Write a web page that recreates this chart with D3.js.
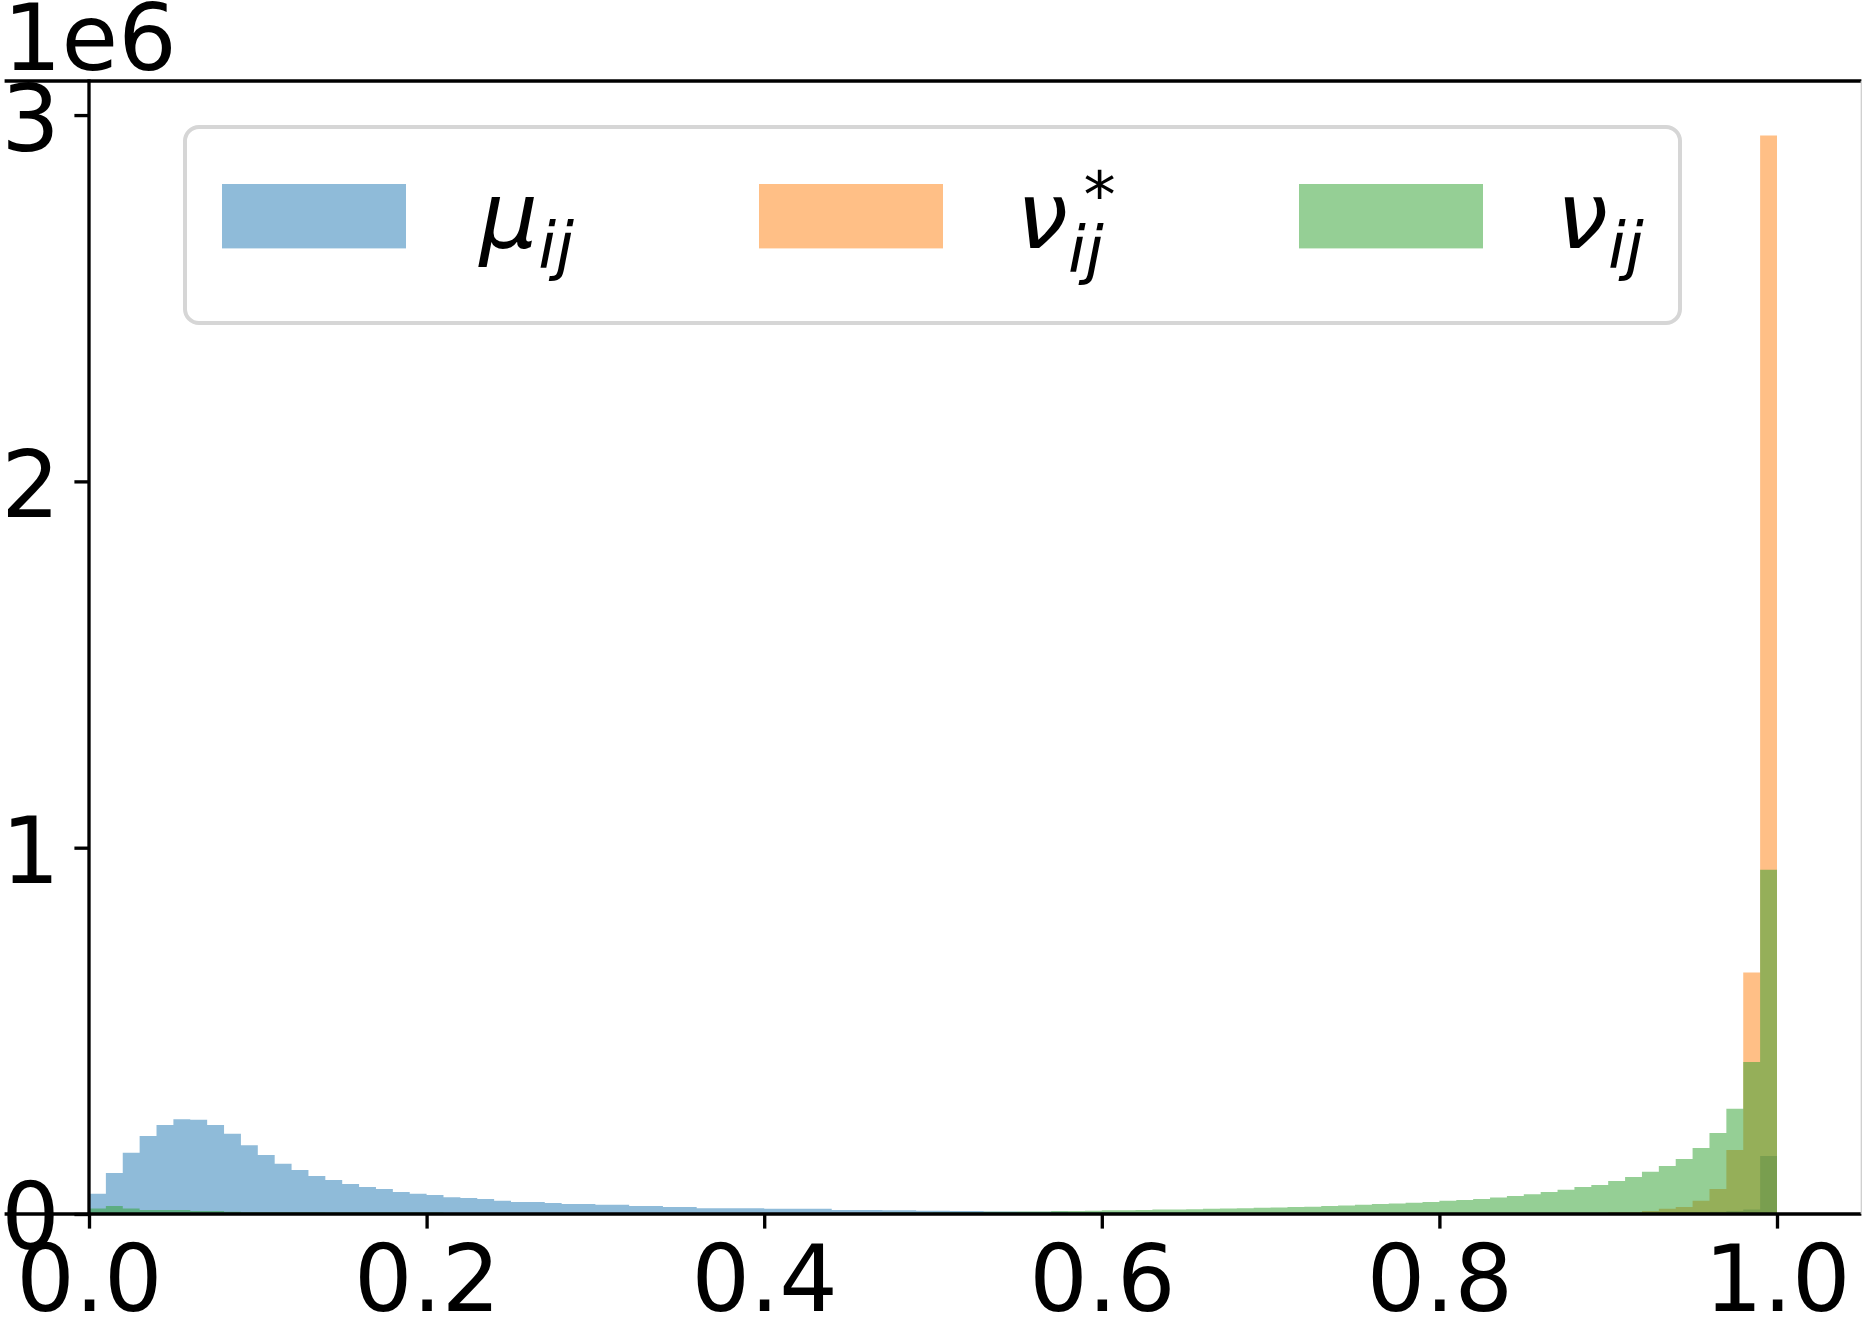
<!DOCTYPE html>
<html>
<head>
<meta charset="utf-8">
<script src="https://cdn.jsdelivr.net/npm/d3@7/dist/d3.min.js"></script>
<style>
  body { margin: 0; background: #fff; }
  svg text { font-family: 'DejaVu Sans', sans-serif; fill: #000; }
</style>
</head>
<body>
<div id="chart"></div>
<script>
// histogram counts per 0.01 bin, in units of 1e6 (bins 0.00-0.01 ... 0.99-1.00)
const BIN_WIDTH = 0.01

const muCounts = [
  0.055, 0.112, 0.167, 0.213, 0.243, 0.259, 0.257, 0.243, 0.219, 0.188,
  0.161, 0.137, 0.120, 0.104, 0.093, 0.082, 0.074, 0.068, 0.060, 0.055,
  0.052, 0.046, 0.044, 0.041, 0.036, 0.033, 0.033, 0.030, 0.027, 0.027,
  0.025, 0.025, 0.022, 0.022, 0.019, 0.019, 0.016, 0.016, 0.016, 0.016,
  0.014, 0.014, 0.014, 0.014, 0.011, 0.011, 0.011, 0.010, 0.010, 0.009,
  0.009, 0.008, 0.008, 0.007, 0.007, 0.006, 0.006, 0.006, 0.005, 0.005,
  0.005, 0.005, 0.004, 0.004, 0.004, 0.004, 0.004, 0.003, 0.003, 0.003,
  0.003, 0.003, 0.003, 0.003, 0.003, 0.003, 0.003, 0.003, 0.003, 0.003,
  0.003, 0.003, 0.003, 0.003, 0.003, 0.003, 0.003, 0.003, 0.003, 0.003,
  0.003, 0.003, 0.004, 0.004, 0.005, 0.005, 0.006, 0.008, 0.012, 0.158
]

const nuStarCounts = [
  0, 0, 0, 0, 0, 0, 0, 0, 0, 0,
  0, 0, 0, 0, 0, 0, 0, 0, 0, 0,
  0, 0, 0, 0, 0, 0, 0, 0, 0, 0,
  0, 0, 0, 0, 0, 0, 0, 0, 0, 0,
  0, 0, 0, 0, 0, 0, 0, 0, 0, 0,
  0, 0, 0, 0, 0, 0, 0, 0, 0, 0,
  0, 0, 0, 0, 0, 0, 0, 0, 0, 0,
  0, 0, 0, 0, 0, 0, 0, 0, 0, 0,
  0, 0, 0, 0, 0, 0, 0.001, 0.001, 0.002, 0.003,
  0.005, 0.005, 0.008, 0.014, 0.019, 0.036, 0.068, 0.175, 0.659, 2.944
]

const nuCounts = [
  0.015, 0.022, 0.015, 0.011, 0.011, 0.011, 0.008, 0.008, 0.006, 0.005,
  0.005, 0.005, 0.005, 0.005, 0.004, 0.004, 0.004, 0.004, 0.004, 0.004,
  0.004, 0.003, 0.003, 0.003, 0.003, 0.003, 0.003, 0.003, 0.003, 0.003,
  0.003, 0.003, 0.003, 0.003, 0.003, 0.003, 0.003, 0.003, 0.003, 0.003,
  0.003, 0.003, 0.003, 0.003, 0.003, 0.003, 0.003, 0.004, 0.004, 0.004,
  0.005, 0.005, 0.005, 0.006, 0.006, 0.007, 0.007, 0.008, 0.008, 0.009,
  0.010, 0.010, 0.011, 0.012, 0.012, 0.013, 0.014, 0.015, 0.016, 0.017,
  0.018, 0.019, 0.020, 0.022, 0.023, 0.025, 0.027, 0.029, 0.031, 0.033,
  0.036, 0.038, 0.041, 0.045, 0.049, 0.054, 0.060, 0.066, 0.074, 0.079,
  0.090, 0.101, 0.115, 0.131, 0.150, 0.180, 0.221, 0.287, 0.415, 0.940
]

const xTicks = [0, 0.2, 0.4, 0.6, 0.8, 1.0]
const yTicks = [0, 1, 2, 3]
const offsetLabel = '1e6'

const series = [
  {name: 'mu', base: 'μ', sup: '', sub: 'ij', color: '#1f77b4', values: muCounts},
  {name: 'nuStar', base: 'ν', sup: '*', sub: 'ij', color: '#ff7f0e', values: nuStarCounts},
  {name: 'nu', base: 'ν', sup: '', sub: 'ij', color: '#2ca02c', values: nuCounts}
]

const W = 1862
const H = 1331
const FONT = 92
const LW = 3.33
const TICK = 14.6
const PAD = 14.6

const x = d3.scaleLinear().domain([-0.05, 1.05]).range([4.6, 1861.4])
const y = d3.scaleLinear().domain([0, 3.093]).range([1214, 81])

const svg = d3.select('#chart').append('svg')
  .attr('width', W).attr('height', H)
  .attr('viewBox', `0 0 ${W} ${H}`)

svg.append('rect').attr('width', W).attr('height', H).attr('fill', '#fff')

// histograms as stepped areas
const area = d3.area()
  .x(d => x(d[0]))
  .y0(y(0))
  .y1(d => y(d[1]))
  .curve(d3.curveStepAfter)

series.forEach(s => {
  const pts = s.values.map((v, i) => [i * BIN_WIDTH, v])
  pts.push([s.values.length * BIN_WIDTH, s.values[s.values.length - 1]])
  svg.append('path')
    .attr('d', area(pts))
    .attr('fill', s.color)
    .attr('fill-opacity', 0.5)
})

// spines
const [xl, xr] = x.range()
const [yb, yt] = y.range()
const spines = svg.append('g').attr('stroke', '#000').attr('stroke-width', LW)
spines.append('line').attr('x1', xl).attr('x2', xr).attr('y1', yt).attr('y2', yt)
spines.append('line').attr('x1', xl).attr('x2', xr).attr('y1', yb).attr('y2', yb)
spines.append('line').attr('x1', x(0)).attr('x2', x(0)).attr('y1', yt - LW / 2).attr('y2', yb + LW / 2)
svg.append('line').attr('x1', xr).attr('x2', xr).attr('y1', yt).attr('y2', yb)
  .attr('stroke', '#d0d0d0').attr('stroke-width', 1.5)

// x axis
const xAxis = svg.append('g')
  .attr('transform', `translate(0, ${y(0)})`)
  .call(d3.axisBottom(x).tickValues(xTicks).tickFormat(d3.format('.1f')).tickSize(TICK).tickPadding(PAD))
xAxis.select('.domain').remove()
xAxis.selectAll('.tick line').attr('stroke', '#000').attr('stroke-width', LW)
xAxis.selectAll('.tick text').attr('font-size', FONT).attr('dy', '0.74em')
  .attr('font-family', "'DejaVu Sans', sans-serif").attr('fill', '#000')

// y axis at x = 0
const yAxis = svg.append('g')
  .attr('transform', `translate(${x(0)}, 0)`)
  .call(d3.axisLeft(y).tickValues(yTicks).tickFormat(d3.format('d')).tickSize(TICK).tickPadding(PAD))
yAxis.select('.domain').remove()
yAxis.selectAll('.tick line').attr('stroke', '#000').attr('stroke-width', LW)
yAxis.selectAll('.tick text').attr('font-size', FONT).attr('dy', '0.38em')
  .attr('font-family', "'DejaVu Sans', sans-serif").attr('fill', '#000')

svg.append('text')
  .attr('x', 3).attr('y', 70)
  .attr('font-size', FONT)
  .text(offsetLabel)

// legend
const legend = svg.append('g')
legend.append('rect')
  .attr('x', 185).attr('y', 127).attr('width', 1495).attr('height', 196)
  .attr('rx', 14).attr('ry', 14)
  .attr('fill', '#fff').attr('fill-opacity', 0.8)
  .attr('stroke', '#d6d6d6').attr('stroke-width', 4)

const colX = [222, 759, 1299]
const HANDLE_W = 2.0 * FONT
const HANDLE_H = 0.7 * FONT
const TEXT_PAD = 0.8 * FONT

series.forEach((s, i) => {
  const g = legend.append('g').attr('transform', `translate(${colX[i]}, 0)`)
  g.append('rect')
    .attr('x', 0).attr('y', 184)
    .attr('width', HANDLE_W).attr('height', HANDLE_H)
    .attr('fill', s.color).attr('fill-opacity', 0.5)

  const tx = HANDLE_W + TEXT_PAD
  const t = g.append('text')
    .attr('x', tx).attr('y', 248)
    .attr('font-size', FONT)
    .attr('font-style', 'italic')
  t.append('tspan').text(s.base)
  t.append('tspan').attr('font-size', FONT * 0.7).attr('dy', s.sup ? 24 : 20).text(s.sub)

  if (s.sup) {
    g.append('text')
      .attr('x', tx + 67).attr('y', 217)
      .attr('font-size', FONT * 0.7)
      .text(s.sup)
  }
})
</script>
</body>
</html>
